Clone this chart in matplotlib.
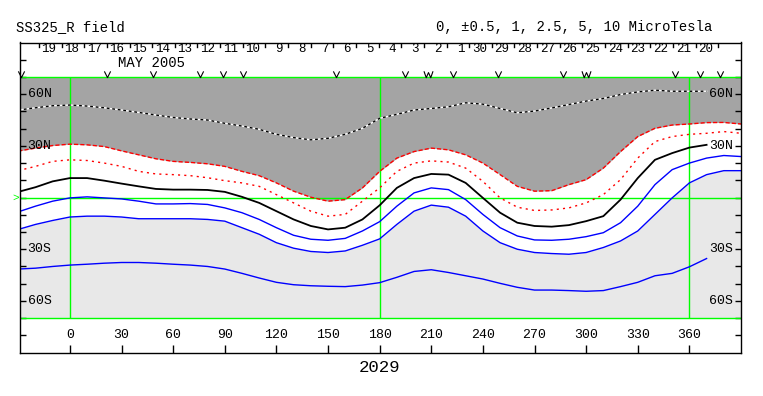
import numpy as np
import matplotlib.pyplot as plt
from matplotlib.path import Path

plt.rcParams['font.family'] = ['Liberation Mono', 'DejaVu Sans Mono']

# Carrington longitude grid the contour lines were read on
lon = np.arange(-30, 391, 10)
nan = np.nan

# contour latitudes (deg) for each line, nan where the line stops
top_dotted = [50.8, 52.1, 53.3, 53.7, 53.1, 52.1, 50.8, 49.4, 47.9, 46.5, 45.6,
              45.0, 43.1, 41.5, 39.6, 36.7, 34.8, 33.5, 34.4, 36.7, 40.2, 46.0,
              48.3, 50.8, 51.7, 52.7, 55.0, 54.2, 51.7, 49.2, 50.2, 52.0, 54.0,
              56.0, 57.5, 59.8, 61.3, 62.3, 61.7, 61.7, 61.7, nan, nan]
red_outer = [27.0, 28.7, 30.2, 31.0, 30.6, 29.6, 27.1, 24.8, 22.5, 21.0, 20.4,
             19.6, 18.1, 15.2, 12.7, 8.5, 3.7, 0.2, -2.1, -1.2, 5.6, 15.2,
             22.9, 26.7, 28.7, 27.7, 24.8, 20.0, 13.3, 6.5, 3.7, 4.0, 7.5,
             10.4, 17.1, 26.7, 35.4, 40.2, 42.1, 42.7, 43.5, 43.6, 42.7]
red_inner = [15.6, 18.1, 21.0, 21.9, 21.5, 20.0, 18.1, 15.2, 13.7, 13.3, 12.7,
             11.5, 9.8, 8.5, 6.5, 1.7, -3.1, -7.9, -10.8, -9.8, -2.1, 5.6,
             15.2, 20.0, 21.3, 20.6, 17.1, 9.4, -0.2, -5.6, -7.5, -7.2, -6.0,
             -3.1, 1.7, 10.4, 22.9, 32.5, 35.4, 36.7, 37.3, 38.3, 37.3]
neutral = [3.3, 6.0, 9.4, 11.3, 11.3, 9.8, 8.1, 6.5, 5.0, 4.6, 4.6,
           4.4, 3.3, 0.4, -3.1, -7.9, -12.7, -16.5, -18.5, -17.5, -12.7, -4.5,
           5.6, 11.3, 13.7, 13.3, 8.5, -0.2, -8.8, -14.6, -16.5, -16.9, -16.0,
           -13.7, -10.8, -1.2, 11.3, 21.9, 25.8, 29.0, 30.6, nan, nan]
blue_1 = [-8.3, -5.0, -2.1, -0.2, 0.4, -0.2, -0.8, -2.1, -3.7, -3.7, -3.5,
          -4.0, -6.0, -8.8, -12.7, -17.5, -21.9, -24.2, -24.8, -23.7, -19.4, -14.0,
          -5.0, 2.7, 5.6, 4.6, -1.2, -9.8, -17.5, -22.3, -24.6, -24.8, -24.2,
          -22.7, -20.4, -14.6, -5.0, 7.5, 16.2, 20.0, 22.9, 24.4, 23.8]
blue_2 = [-18.5, -15.6, -13.3, -11.3, -10.8, -10.8, -11.3, -12.3, -12.3, -12.3, -12.3,
          -12.7, -13.7, -17.5, -21.3, -26.2, -29.4, -31.3, -31.9, -31.0, -27.7, -24.0,
          -15.6, -7.9, -4.4, -5.6, -10.8, -19.4, -26.2, -30.0, -31.9, -32.5, -32.9,
          -31.9, -29.0, -25.2, -19.4, -9.8, -0.2, 8.5, 13.3, 15.6, 15.6]
blue_3 = [-41.5, -41.0, -40.0, -39.2, -38.7, -38.1, -37.7, -37.7, -38.1, -38.7, -39.2,
          -40.0, -41.5, -44.0, -46.7, -49.2, -50.6, -51.2, -51.5, -51.7, -50.8, -49.4,
          -46.3, -42.9, -41.9, -43.5, -45.4, -47.3, -49.8, -52.1, -53.7, -53.7, -54.0,
          -54.4, -54.0, -51.7, -49.2, -45.4, -44.0, -40.2, -35.4, nan, nan]

# calendar days across the top (time runs right to left)
days = [19, 18, 17, 16, 15, 14, 13, 12, 11, 10, 9, 8, 7, 6, 5, 4, 3, 2, 1,
        30, 29, 28, 27, 26, 25, 24, 23, 22, 21, 20]
day_start_lon = -18.0
day_len = 13.16  # degrees of Carrington longitude per day

# observation marks along the top of the map (v = single, w = double)
obs_lon = [-28.3, 21.7, 48.3, 75.4, 89.0, 100.6, 154.7, 194.8, 208.3, 222.8,
           249.0, 286.8, 300.0, 351.7, 366.3, 377.9]
obs_mark = ['v', 'v', 'v', 'v', 'v', 'v', 'v', 'v', 'w', 'v',
            'v', 'v', 'w', 'v', 'v', 'v']

lon_ticks = list(range(0, 361, 30))
lat_labels = [60, 30, -30, -60]

GREEN = '#00ff00'
DARK = '#a4a4a4'
LIGHT = '#e8e8e8'

# open line markers shaped like the small v / w letters
V_MARK = Path([(-1, 1), (0, -1), (1, 1)], [Path.MOVETO, Path.LINETO, Path.LINETO])
W_MARK = Path([(-1.4, 1), (-0.7, -1), (0, 0.6), (0.7, -1), (1.4, 1)],
              [Path.MOVETO] + [Path.LINETO] * 4)

fig = plt.figure(figsize=(7.63, 3.96), dpi=100)
ax = fig.add_axes([20 / 763, 43.4 / 396, 721 / 763, 310.1 / 396])
ax.set_xlim(-29, 390)
ax.set_ylim(-90, 90)

# shaded polarity regions
ax.fill_between(lon, red_outer, 70, color=DARK, lw=0)
ax.fill_between(lon, -70, blue_2, color=LIGHT, lw=0)

# green frame of the map, equator and 0/180/360 meridians
for lat in (70, 0, -70):
    ax.axhline(lat, color=GREEN, lw=1)
ax.vlines([0, 180, 360], -70, 70, color=GREEN, lw=1)

# contours
ax.plot(lon, top_dotted, color='white', lw=1)
ax.plot(lon, top_dotted, color='black', lw=1, dashes=(2, 2))
ax.plot(lon, red_outer, color='red', lw=1, dashes=(3, 1.5))
ax.plot(lon, red_inner, color='red', lw=1, dashes=(1.5, 3))
ax.plot(lon, neutral, color='black', lw=1.3)
for line in (blue_1, blue_2, blue_3):
    ax.plot(lon, line, color='blue', lw=1)

# axis ticks
ax.set_yticks(np.arange(-80, 81, 10))
ax.set_xticks(lon_ticks)
ax.tick_params(axis='y', direction='in', length=4.5, width=1, left=True, right=True,
               labelleft=False)
ax.tick_params(axis='x', direction='in', length=6, width=1, top=False, labelbottom=False)
for s in ax.spines.values():
    s.set_linewidth(1)

for lo in lon_ticks:
    ax.text(lo, -80, str(lo), ha='center', va='center', fontsize=9.5)

for lat in lat_labels:
    name = f"{abs(lat)}{'N' if lat > 0 else 'S'}"
    ax.text(-24.6, lat, name, ha='left', va='center', fontsize=9.5)
    ax.text(385.6, lat, name, ha='right', va='center', fontsize=9.5)

ax.text(-29.5, 0, '>', color=GREEN, ha='right', va='center', fontsize=8, clip_on=False)

# day ruler at the top
for k in range(len(days) + 1):
    x0 = day_start_lon + k * day_len
    ax.plot([x0, x0], [90, 87.2], color='black', lw=1)
for k, d in enumerate(days):
    x0 = day_start_lon + k * day_len
    ax.text(x0 + 0.78 * day_len, 89.6, str(d), ha='right', va='top', fontsize=9)

ax.text(47.4, 78.2, 'MAY 2005', ha='center', va='center', fontsize=10)

for lo, m in zip(obs_lon, obs_mark):
    if m == 'v':
        ax.plot(lo, 72.0, marker=V_MARK, ms=4.5, mew=0.8, color='black',
                fillstyle='none', linestyle='none', clip_on=False)
    else:
        ax.plot(lo, 72.0, marker=W_MARK, ms=6.5, mew=0.8, color='black',
                fillstyle='none', linestyle='none', clip_on=False)

fig.text(16 / 763, 1 - 27.5 / 396, 'SS325_R field', ha='left', va='center', fontsize=10)
fig.text(712 / 763, 1 - 27.5 / 396, '0, \u00b10.5, 1, 2.5, 5, 10 MicroTesla',
         ha='right', va='center', fontsize=10)
fig.text(380 / 763, 1 - 367 / 396, '2029', ha='center', va='center', fontsize=12.5)

fig.savefig('out.png', dpi=100)
